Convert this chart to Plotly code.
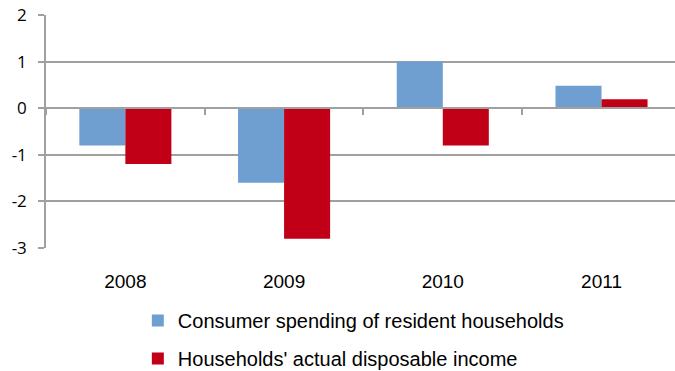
import plotly.graph_objects as go

# Annual change, in percent
years = ["2008", "2009", "2010", "2011"]
consumer_spending = [-0.8, -1.6, 1.0, 0.48]
disposable_income = [-1.2, -2.8, -0.8, 0.19]

series_names = ["Consumer spending of resident households",
                "Households' actual disposable income"]
y_ticks = [-3, -2, -1, 0, 1, 2]
y_tick_text = ["-3", "-2", "-1", "0", "1", "2"]

BLUE = "#6F9FD1"
RED = "#C10018"
GRID = "#A0A0A0"

x_pos = list(range(len(years)))
x_range = [-0.5, 3.463]

fig = go.Figure()
fig.add_trace(go.Bar(x=x_pos, y=consumer_spending, name=series_names[0],
                     marker=dict(color=BLUE, line=dict(width=0)),
                     legendgroup="a"))
fig.add_trace(go.Bar(x=x_pos, y=disposable_income, name=series_names[1],
                     marker=dict(color=RED, line=dict(width=0)),
                     legendgroup="b"))
# carrier for the category-boundary tick marks on the zero line
fig.add_trace(go.Scatter(x=[], y=[], xaxis="x2", showlegend=False,
                         hoverinfo="skip"))

fig.update_layout(
    width=675, height=371,
    margin=dict(l=46, r=0, t=15, b=123, autoexpand=False),
    paper_bgcolor="white", plot_bgcolor="white",
    barmode="group", bargap=0.42, bargroupgap=0,
    font=dict(family="Liberation Sans, Arial, sans-serif", color="#000"),
    xaxis=dict(range=x_range, tickvals=x_pos, ticktext=years,
               showgrid=False, zeroline=False, showline=False, ticks="",
               tickfont=dict(size=19), ticklabelstandoff=20, automargin=False),
    xaxis2=dict(overlaying="x", anchor="free", position=0.6, range=x_range,
                tickvals=[-0.5, 0.5, 1.5, 2.5], ticks="outside", ticklen=6,
                tickwidth=1.5, tickcolor=GRID, showline=True, linecolor=GRID,
                linewidth=1.5, showticklabels=False, showgrid=False,
                zeroline=False),
    yaxis=dict(range=[-3, 2], tickvals=y_ticks, ticktext=y_tick_text,
               showgrid=True, automargin=False,
               gridcolor=GRID, gridwidth=1.5, zeroline=False, showline=True,
               linecolor=GRID, linewidth=1.5, ticks="outside", ticklen=6,
               tickwidth=1.5, tickcolor=GRID, ticklabelstandoff=8,
               tickfont=dict(family="Open Sans, sans-serif", size=17)),
    legend=dict(orientation="v", x=0.146, xanchor="left", y=-0.228,
                yanchor="top", traceorder="grouped", tracegroupgap=9,
                font=dict(size=20), bgcolor="rgba(0,0,0,0)"),
    showlegend=True,
)

fig.write_html("out.html")
